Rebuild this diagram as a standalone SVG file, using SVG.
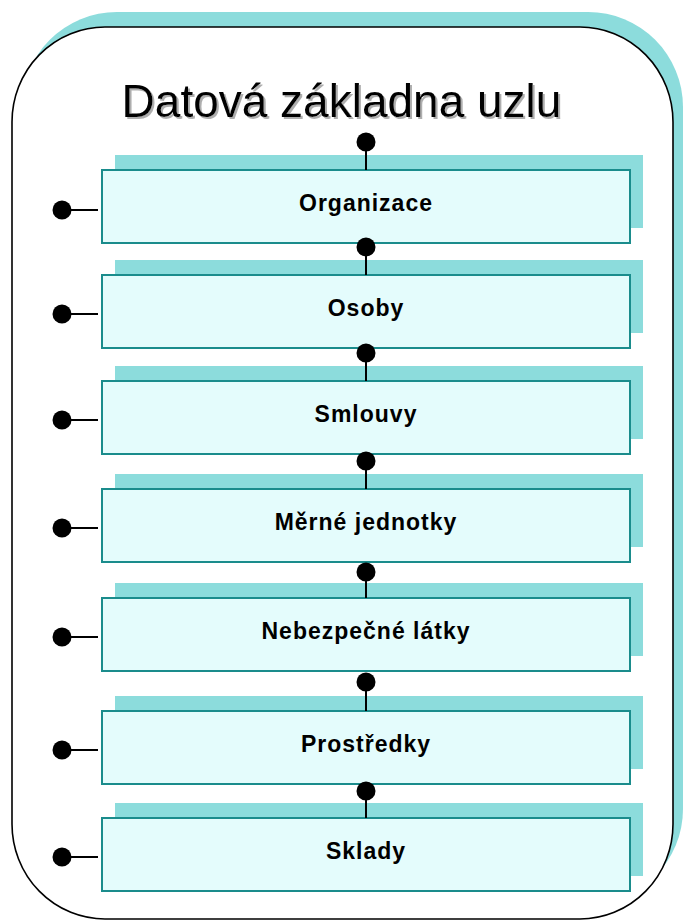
<svg xmlns="http://www.w3.org/2000/svg" width="683" height="921" viewBox="0 0 683 921">
  <style>
    .shadow { fill: #8cdcdc; }
    .box { fill: #e4fcfc; stroke: #1a8c8c; stroke-width: 2; }
    .label { font-family: "Liberation Sans", Arial, sans-serif; font-weight: bold; font-size: 23px; letter-spacing: 1px; text-anchor: middle; fill: #000; }
    .title { font-family: "Liberation Sans", Arial, sans-serif; font-size: 46px; text-anchor: middle; fill: #000; filter: url(#soft); }
    .wire { stroke: #000; stroke-width: 2; fill: none; }
    .dot { fill: #000; }
  </style>
  <defs>
    <rect id="card" x="0" y="0" width="528" height="73"/>
    <filter id="soft" x="-5%" y="-20%" width="110%" height="140%">
      <feDropShadow dx="2" dy="2" stdDeviation="0.6" flood-color="#9a9a9a" flood-opacity="0.8"/>
    </filter>
  </defs>

  <!-- outer container with offset shadow -->
  <g id="container">
    <rect x="22" y="12" width="661" height="892" rx="95" ry="95" class="shadow"/>
    <rect x="12" y="27" width="661" height="892" rx="93" ry="95" fill="#fff" stroke="#000" stroke-width="1.6"/>
    <text x="341.5" y="117" class="title">Datová základna uzlu</text>
  </g>

  <!-- table boxes -->
  <g id="organizace">
    <use href="#card" x="115" y="155" class="shadow"/>
    <use href="#card" x="102" y="170" class="box"/>
    <text x="366" y="211" class="label">Organizace</text>
  </g>
  <g id="osoby">
    <use href="#card" x="115" y="260" class="shadow"/>
    <use href="#card" x="102" y="275" class="box"/>
    <text x="366" y="316" class="label">Osoby</text>
  </g>
  <g id="smlouvy">
    <use href="#card" x="115" y="366" class="shadow"/>
    <use href="#card" x="102" y="381" class="box"/>
    <text x="366" y="422" class="label">Smlouvy</text>
  </g>
  <g id="merne-jednotky">
    <use href="#card" x="115" y="474" class="shadow"/>
    <use href="#card" x="102" y="489" class="box"/>
    <text x="366" y="530" class="label">Měrné jednotky</text>
  </g>
  <g id="nebezpecne-latky">
    <use href="#card" x="115" y="583" class="shadow"/>
    <use href="#card" x="102" y="598" class="box"/>
    <text x="366" y="639" class="label">Nebezpečné látky</text>
  </g>
  <g id="prostredky">
    <use href="#card" x="115" y="696" class="shadow"/>
    <use href="#card" x="102" y="711" class="box"/>
    <text x="366" y="752" class="label">Prostředky</text>
  </g>
  <g id="sklady">
    <use href="#card" x="115" y="803" class="shadow"/>
    <use href="#card" x="102" y="818" class="box"/>
    <text x="366" y="859" class="label">Sklady</text>
  </g>

  <!-- connectors: ball terminals -->
  <g id="connectors">
    <line x1="366" y1="142" x2="366" y2="170" class="wire"/>
    <circle cx="366" cy="142" r="9.5" class="dot"/>
    <line x1="366" y1="247" x2="366" y2="275" class="wire"/>
    <circle cx="366" cy="247" r="9.5" class="dot"/>
    <line x1="366" y1="353" x2="366" y2="381" class="wire"/>
    <circle cx="366" cy="353" r="9.5" class="dot"/>
    <line x1="366" y1="461" x2="366" y2="489" class="wire"/>
    <circle cx="366" cy="461" r="9.5" class="dot"/>
    <line x1="366" y1="572" x2="366" y2="598" class="wire"/>
    <circle cx="366" cy="572" r="9.5" class="dot"/>
    <line x1="366" y1="682" x2="366" y2="711" class="wire"/>
    <circle cx="366" cy="682" r="9.5" class="dot"/>
    <line x1="366" y1="791" x2="366" y2="818" class="wire"/>
    <circle cx="366" cy="791" r="9.5" class="dot"/>

    <line x1="62" y1="210" x2="98" y2="210" class="wire"/>
    <circle cx="62" cy="210" r="9.5" class="dot"/>
    <line x1="62" y1="314" x2="98" y2="314" class="wire"/>
    <circle cx="62" cy="314" r="9.5" class="dot"/>
    <line x1="62" y1="420" x2="98" y2="420" class="wire"/>
    <circle cx="62" cy="420" r="9.5" class="dot"/>
    <line x1="62" y1="528" x2="98" y2="528" class="wire"/>
    <circle cx="62" cy="528" r="9.5" class="dot"/>
    <line x1="62" y1="637" x2="98" y2="637" class="wire"/>
    <circle cx="62" cy="637" r="9.5" class="dot"/>
    <line x1="62" y1="750" x2="98" y2="750" class="wire"/>
    <circle cx="62" cy="750" r="9.5" class="dot"/>
    <line x1="62" y1="857" x2="98" y2="857" class="wire"/>
    <circle cx="62" cy="857" r="9.5" class="dot"/>
  </g>
</svg>
